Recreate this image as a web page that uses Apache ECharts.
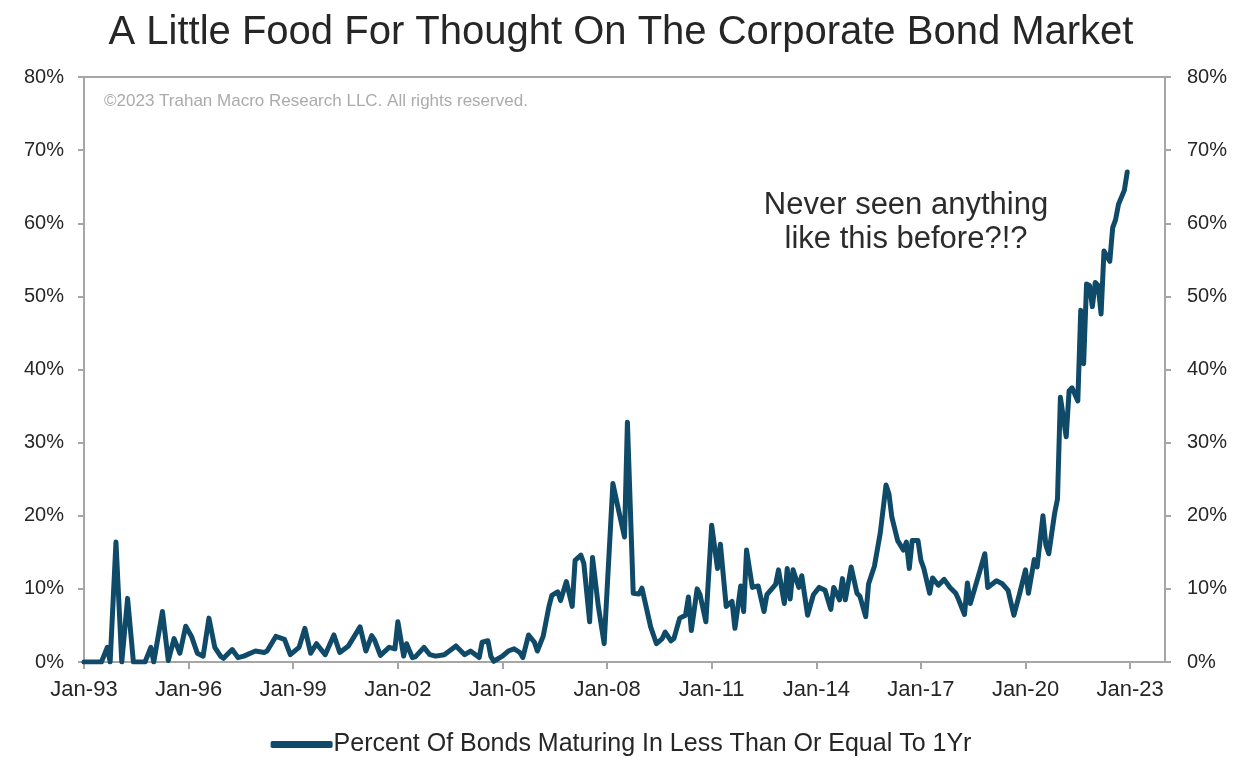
<!DOCTYPE html>
<html>
<head>
<meta charset="utf-8">
<title>Corporate Bond Market</title>
<script src="https://cdn.jsdelivr.net/npm/echarts@6/dist/echarts.min.js"></script>
<style>
  html, body { margin: 0; padding: 0; background: #ffffff; }
  #chart { width: 1242px; height: 762px; }
</style>
</head>
<body>
<div id="chart"></div>
<script>
// Share of corporate bonds maturing in <= 1 year (%), monthly observations
const dates = [
  '1993-01','1993-07','1993-09','1993-10','1993-12','1994-02','1994-04','1994-06','1994-10','1994-12',
  '1995-01','1995-04','1995-06','1995-08','1995-10','1995-12','1996-02','1996-04','1996-06','1996-08',
  '1996-10','1996-12','1997-01','1997-04','1997-06','1997-08','1997-12','1998-03','1998-04','1998-07',
  '1998-10','1998-12','1999-03','1999-05','1999-07','1999-09','1999-12','2000-03','2000-05','2000-08',
  '2000-10','2000-12','2001-02','2001-04','2001-05','2001-07','2001-10','2001-12','2002-01','2002-03',
  '2002-04','2002-06','2002-07','2002-10','2002-12','2003-02','2003-05','2003-09','2003-12','2004-02',
  '2004-05','2004-06','2004-08','2004-09','2004-10','2005-01','2005-03','2005-05','2005-07','2005-08',
  '2005-10','2005-12','2006-01','2006-03','2006-05','2006-06','2006-08','2006-09','2006-11','2007-01',
  '2007-02','2007-04','2007-05','2007-07','2007-08','2007-10','2007-12','2008-03','2008-05','2008-07',
  '2008-08','2008-10','2008-12','2009-01','2009-04','2009-06','2009-08','2009-09','2009-11','2009-12',
  '2010-02','2010-04','2010-05','2010-06','2010-08','2010-09','2010-11','2011-01','2011-03','2011-04',
  '2011-06','2011-08','2011-09','2011-11','2011-12','2012-01','2012-03','2012-05','2012-07','2012-08',
  '2012-11','2012-12','2013-02','2013-03','2013-04','2013-05','2013-07','2013-08','2013-10','2013-12',
  '2014-02','2014-04','2014-06','2014-07','2014-09','2014-10','2014-11','2015-01','2015-03','2015-04',
  '2015-06','2015-07','2015-09','2015-11','2016-01','2016-02','2016-03','2016-05','2016-07','2016-08',
  '2016-09','2016-10','2016-12','2017-01','2017-02','2017-04','2017-05','2017-07','2017-09','2017-11',
  '2018-01','2018-02','2018-04','2018-05','2018-06','2018-08','2018-11','2018-12','2019-03','2019-05',
  '2019-07','2019-09','2019-11','2020-01','2020-02','2020-04','2020-05','2020-07','2020-08','2020-09',
  '2020-11','2020-12','2021-01','2021-03','2021-04','2021-05','2021-07','2021-08','2021-09','2021-10',
  '2021-11','2021-12','2022-01','2022-02','2022-03','2022-04','2022-06','2022-07','2022-08','2022-09',
  '2022-11','2022-12'
];
const pctMaturing = [
  0, 0, 2.0, 0, 16.4, 0, 8.7, 0, 0, 2.0,
  0, 6.9, 0.2, 3.2, 1.2, 4.9, 3.5, 1.2, 0.8, 6.0,
  2.0, 0.8, 0.5, 1.7, 0.6, 0.8, 1.5, 1.3, 1.5, 3.5,
  3.1, 1.0, 2.0, 4.6, 1.2, 2.5, 1.0, 3.7, 1.3, 2.2,
  3.5, 4.8, 1.5, 3.6, 3.0, 0.9, 2.0, 1.8, 5.5, 0.8,
  2.5, 0.6, 0.7, 2.0, 1.0, 0.8, 1.0, 2.2, 1.0, 1.5,
  0.6, 2.7, 2.9, 0.8, 0.1, 0.8, 1.5, 1.8, 1.3, 0.6,
  3.7, 2.7, 1.5, 3.5, 7.6, 9.1, 9.6, 8.4, 11.0, 7.6,
  13.9, 14.6, 13.5, 5.5, 14.3, 7.6, 2.5, 24.4, 20.7, 17.1,
  32.8, 9.4, 9.3, 10.1, 4.8, 2.5, 3.2, 4.1, 2.9, 3.2,
  6.0, 6.4, 8.9, 4.3, 10.0, 9.2, 5.5, 18.7, 12.8, 16.1,
  7.6, 8.3, 4.6, 10.4, 6.9, 15.3, 10.2, 10.4, 6.9, 9.2,
  10.6, 12.6, 8.0, 12.8, 8.6, 12.6, 10.2, 11.8, 6.4, 9.2,
  10.2, 9.8, 7.2, 10.2, 8.5, 11.4, 8.5, 13.0, 9.4, 9.0,
  6.2, 10.7, 13.1, 17.6, 24.2, 23.0, 19.8, 16.6, 15.3, 16.4,
  12.8, 16.6, 16.6, 13.9, 12.8, 9.4, 11.5, 10.5, 11.3, 10.2,
  9.4, 8.5, 6.5, 10.8, 8.0, 10.7, 14.8, 10.2, 11.1, 10.7,
  9.8, 6.4, 9.4, 12.6, 9.4, 14.0, 13.0, 20.0, 16.0, 14.8,
  20.3, 22.3, 36.2, 30.8, 37.1, 37.5, 35.7, 48.1, 40.8, 51.7,
  51.5, 48.6, 51.9, 51.5, 47.6, 56.2, 54.8, 59.4, 60.5, 62.6,
  64.5, 67.0
];
const yTicks = [0, 10, 20, 30, 40, 50, 60, 70, 80];

const seriesName = 'Percent Of Bonds Maturing In Less Than Or Equal To 1Yr';
const titleText = 'A Little Food For Thought On The Corporate Bond Market';
const noteLines = ['Never seen anything', 'like this before?!?'];
const copyrightText = '\u00A92023 Trahan Macro Research LLC. All rights reserved.';

// x positions are months elapsed since Jan-1993
const START_YEAR = 1993;
function monthIndex(s) {
  const [y, m] = s.split('-').map(Number);
  return (y - START_YEAR) * 12 + (m - 1);
}
function monthLabel(v) {
  if (v % 36 !== 0) return '';
  const yr = START_YEAR + v / 12;
  return 'Jan-' + String(yr % 100).padStart(2, '0');
}
const points = dates.map((d, i) => [monthIndex(d), pctMaturing[i]]);

const FONT = '"Liberation Sans", Arial, Helvetica, sans-serif';
const AXIS_GRAY = '#a6a6a6';
const LINE_COLOR = '#0f4a68';
const TEXT_COLOR = '#262626';

const chart = echarts.init(document.getElementById('chart'), null, { renderer: 'canvas' });

const yAxisBase = {
  type: 'value',
  min: yTicks[0],
  max: yTicks[yTicks.length - 1],
  interval: yTicks[1] - yTicks[0],
  splitLine: { show: false },
  axisLine: { show: true, lineStyle: { color: AXIS_GRAY, width: 2 } },
  axisTick: { show: true, inside: false, length: 6, lineStyle: { color: AXIS_GRAY, width: 2 } },
  axisLabel: {
    formatter: '{value}%',
    fontSize: 20,
    fontFamily: FONT,
    color: TEXT_COLOR
  }
};

chart.setOption({
  backgroundColor: '#ffffff',
  animation: false,
  textStyle: { fontFamily: FONT },
  title: {
    text: titleText,
    left: 'center',
    top: 8,
    textStyle: { fontSize: 40, fontWeight: 'normal', color: TEXT_COLOR, fontFamily: FONT }
  },
  legend: {
    bottom: 0,
    left: 'center',
    icon: 'roundRect',
    itemWidth: 62,
    itemHeight: 7,
    itemGap: 10,
    data: [seriesName],
    textStyle: { fontSize: 25, color: TEXT_COLOR, fontFamily: FONT, padding: [0, 0, 0, -4] }
  },
  grid: {
    left: 84,
    right: 77,
    top: 77,
    bottom: 100,
    show: true,
    borderColor: AXIS_GRAY,
    borderWidth: 2,
    containLabel: false
  },
  xAxis: {
    type: 'value',
    min: 0,
    max: 372,
    interval: 36,
    splitLine: { show: false },
    axisLine: { show: true, lineStyle: { color: AXIS_GRAY, width: 2 } },
    axisTick: { show: true, inside: false, length: 7, lineStyle: { color: AXIS_GRAY, width: 2 } },
    axisLabel: {
      formatter: monthLabel,
      showMaxLabel: false,
      fontSize: 22,
      margin: 17,
      fontFamily: FONT,
      color: TEXT_COLOR
    }
  },
  yAxis: [
    Object.assign({}, yAxisBase, {
      position: 'left',
      axisLabel: Object.assign({}, yAxisBase.axisLabel, { margin: 20 })
    }),
    Object.assign({}, yAxisBase, {
      position: 'right',
      axisLabel: Object.assign({}, yAxisBase.axisLabel, { margin: 22 })
    })
  ],
  graphic: [
    {
      type: 'text',
      left: 104,
      top: 93,
      style: {
        text: copyrightText,
        fontSize: 17,
        fontFamily: FONT,
        fill: '#ababab'
      }
    },
    {
      type: 'text',
      x: 906,
      y: 188,
      style: {
        text: noteLines.join('\n'),
        fontSize: 31,
        lineHeight: 34,
        textAlign: 'center',
        fontFamily: FONT,
        fill: '#2b2b2b'
      }
    }
  ],
  series: [
    {
      name: seriesName,
      type: 'line',
      yAxisIndex: 0,
      data: points,
      showSymbol: false,
      symbol: 'none',
      color: LINE_COLOR,
      lineStyle: { color: LINE_COLOR, width: 5, join: 'round', cap: 'round' },
      z: 3
    }
  ]
});
</script>
</body>
</html>
